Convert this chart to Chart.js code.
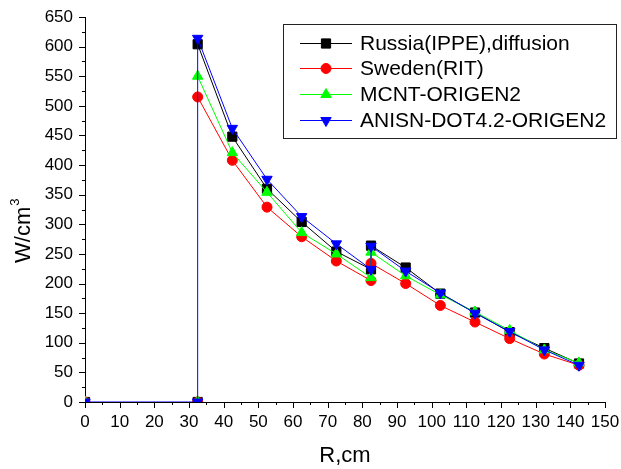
<!DOCTYPE html>
<html>
<head>
<meta charset="utf-8">
<script src="https://cdn.jsdelivr.net/npm/chart.js@4/dist/chart.umd.min.js"></script>
<style>
  html, body { margin: 0; padding: 0; background: #fff; }
  #wrap { width: 621px; height: 469px; }
</style>
</head>
<body>
<div id="wrap"><canvas id="c" width="621" height="469"></canvas></div>
<script>
// radius positions (cm); the steps at 32.5 and 82.5 are listed twice
const radius = [0, 32.5, 32.5, 42.5, 52.5, 62.5, 72.5, 82.5, 82.5, 92.5, 102.5, 112.5, 122.5, 132.5, 142.5];

const russia = [0, 0, 604, 448, 360, 304, 254, 224, 264, 227, 183, 151, 118, 91, 65];
const sweden = [0, 0, 515, 408, 329, 279, 238, 205, 234, 200, 163, 135, 107, 81, 62];
const mcnt   = [0, 0, 550, 421, 354, 286, 250, 210, 253, 213, 181, 152, 121, 88, 66];
const anisn  = [0, 0, 614, 462, 376, 313, 267, 224, 263, 221, 184, 150, 119, 88, 62];

const xTicks = [0, 150, 10];
const yTicks = [0, 650, 50];

const FONT = 'Arial, "Liberation Sans", sans-serif';

const pts = (ys) => radius.map((x, i) => ({ x: x, y: ys[i] }));

// lower order = drawn later, so blue ends up on top
const series = [
  { label: "Russia(IPPE),diffusion", data: russia, color: "#000000", style: "rect", r: 6.5, rot: 0, order: 3 },
  { label: "Sweden(RIT)", data: sweden, color: "#ff0000", style: "circle", r: 5, rot: 0, order: 2 },
  { label: "MCNT-ORIGEN2", data: mcnt, color: "#00ff00", style: "triangle", r: 6, rot: 0, order: 1 },
  { label: "ANISN-DOT4.2-ORIGEN2", data: anisn, color: "#0000ff", style: "triangle", r: 6, rot: 180, order: 0 },
];

// the first two segments (zero line + jump at 32.5) are hidden under the blue one anyway
const hiddenUnderBlue = (s) => (ctx) =>
  (s.order > 0 && ctx.p1DataIndex <= 2) ? "rgba(0,0,0,0)" : s.color;

// outward major/minor ticks, y title with superscript, boxed legend
const extras = {
  id: "extras",
  afterDraw(chart) {
    const ctx = chart.ctx;
    const xs = chart.scales.x, ys = chart.scales.y;
    const area = chart.chartArea;
    ctx.save();
    ctx.strokeStyle = "#000";
    ctx.lineWidth = 1;
    ctx.beginPath();
    for (let v = xTicks[0]; v <= xTicks[1]; v += xTicks[2] / 2) {
      const px = Math.round(xs.getPixelForValue(v)) + 0.5;
      const len = (v % xTicks[2] === 0) ? 6 : 3;
      ctx.moveTo(px, area.bottom);
      ctx.lineTo(px, area.bottom + len);
    }
    for (let v = yTicks[0]; v <= yTicks[1]; v += yTicks[2] / 2) {
      const py = Math.round(ys.getPixelForValue(v)) + 0.5;
      const len = (v % yTicks[2] === 0) ? 6 : 3;
      ctx.moveTo(area.left, py);
      ctx.lineTo(area.left - len, py);
    }
    ctx.stroke();

    // y title
    ctx.save();
    ctx.translate(30, 263);
    ctx.rotate(-Math.PI / 2);
    ctx.fillStyle = "#000";
    ctx.textBaseline = "alphabetic";
    ctx.textAlign = "left";
    ctx.font = "22px " + FONT;
    const base = "W/cm";
    ctx.fillText(base, 0, 0);
    const w = ctx.measureText(base).width;
    ctx.font = "13px " + FONT;
    ctx.fillText("3", w + 1, -11);
    ctx.restore();

    // legend
    const lx = 283.5, ly = 24.5, lw = 333, lh = 114;
    ctx.fillStyle = "#fff";
    ctx.fillRect(lx, ly, lw, lh);
    ctx.strokeStyle = "#222";
    ctx.strokeRect(lx, ly, lw, lh);
    const rowY = [43, 68, 94, 120];
    series.forEach((s, i) => {
      const y = rowY[i];
      ctx.strokeStyle = s.color;
      ctx.lineWidth = 1;
      ctx.beginPath();
      ctx.moveTo(300, y + 0.5);
      ctx.lineTo(352, y + 0.5);
      ctx.stroke();
      ctx.fillStyle = s.color;
      Chart.helpers.drawPoint(ctx, {
        pointStyle: s.style, radius: s.r, rotation: s.rot, borderWidth: 1
      }, 326, y + 0.5);
      ctx.fillStyle = "#000";
      ctx.font = "21px " + FONT;
      ctx.textBaseline = "middle";
      ctx.textAlign = "left";
      ctx.fillText(s.label, 360, y + 1);
    });
    ctx.restore();
  }
};

new Chart(document.getElementById("c"), {
  type: "scatter",
  data: {
    datasets: series.map((s) => ({
      label: s.label,
      data: pts(s.data),
      showLine: true,
      borderColor: s.color,
      backgroundColor: s.color,
      borderWidth: 1,
      segment: { borderColor: hiddenUnderBlue(s) },
      pointStyle: s.style,
      pointRadius: s.r,
      pointRotation: s.rot,
      pointBorderWidth: 1,
      pointBorderColor: s.color,
      pointBackgroundColor: s.color,
      order: s.order,
    })),
  },
  options: {
    responsive: false,
    animation: false,
    layout: { padding: { top: 17, right: 16, left: 0, bottom: 0 } },
    plugins: { legend: { display: false }, tooltip: { enabled: false } },
    scales: {
      x: {
        type: "linear",
        min: xTicks[0], max: xTicks[1],
        ticks: { stepSize: xTicks[2], color: "#000", font: { family: FONT, size: 17 }, padding: 10, maxRotation: 0, autoSkip: false },
        grid: { display: true, drawOnChartArea: false, drawTicks: false },
        border: { display: true, color: "#000", width: 1 },
        title: { display: true, text: "R,cm", color: "#000", font: { family: FONT, size: 22 }, padding: { top: 1, bottom: 0 } },
        afterFit(s) { s.height = 67; s.paddingLeft = 0; s.paddingRight = 0; },
      },
      y: {
        type: "linear",
        min: yTicks[0], max: yTicks[1],
        ticks: { stepSize: yTicks[2], color: "#000", font: { family: FONT, size: 17 }, padding: 12, autoSkip: false },
        grid: { display: true, drawOnChartArea: false, drawTicks: false },
        border: { display: true, color: "#000", width: 1 },
        afterFit(s) { s.width = 85; s.paddingTop = 0; s.paddingBottom = 0; },
      },
    },
  },
  plugins: [extras],
});
</script>
</body>
</html>
